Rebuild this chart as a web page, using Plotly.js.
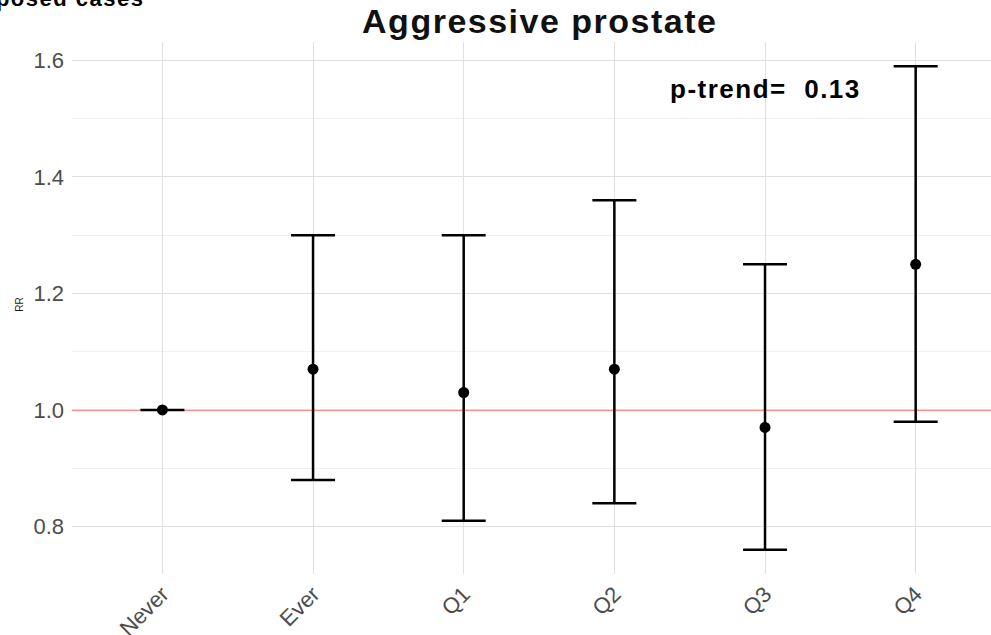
<!DOCTYPE html>
<html>
<head>
<meta charset="utf-8">
<script src="https://cdn.plot.ly/plotly-3.0.1.min.js"></script>
<style>
html, body { margin: 0; padding: 0; background: #fff; }
#chart { width: 991px; height: 635px; }
</style>
</head>
<body>
<div id="chart"></div>
<script>
// Data
const categories = ["Never", "Ever", "Q1", "Q2", "Q3", "Q4"];
const rr = [1.00, 1.07, 1.03, 1.07, 0.97, 1.25];
const lower = [1.00, 0.88, 0.81, 0.84, 0.76, 0.98];
const upper = [1.00, 1.30, 1.30, 1.36, 1.25, 1.59];
const yTicks = [0.8, 1.0, 1.2, 1.4, 1.6];
const pTrendLabel = "p-trend=\u00a0\u00a00.13";
const titleText = "Aggressive prostate";
const cutTopText = "Exposed cases";

const errPlus = rr.map((v, i) => upper[i] - v);
const errMinus = rr.map((v, i) => v - lower[i]);

const font = "Liberation Sans, Arial, Helvetica, sans-serif";

const trace = {
  type: "scatter",
  mode: "markers",
  x: categories,
  y: rr,
  marker: { color: "#000000", size: 11 },
  error_y: {
    type: "data",
    symmetric: false,
    array: errPlus,
    arrayminus: errMinus,
    color: "#000000",
    thickness: 2.5,
    width: 22
  },
  cliponaxis: false,
  hoverinfo: "x+y"
};

const layout = {
  width: 991,
  height: 635,
  paper_bgcolor: "#ffffff",
  plot_bgcolor: "#ffffff",
  margin: { l: 72, r: 0, t: 42, b: 61, pad: 0 },
  showlegend: false,
  font: { family: font, color: "#4d4d4d" },
  title: {
    text: '<span style="letter-spacing:1.5px">' + titleText + '</span>',
    font: { family: font, size: 34, color: "#111111", weight: "bold" },
    xref: "paper", x: 0.509, xanchor: "center",
    yref: "container", y: 0.966, yanchor: "middle"
  },
  xaxis: {
    type: "category",
    range: [-0.6, 5.5],
    showgrid: true,
    gridcolor: "#e0e0e0",
    gridwidth: 1,
    zeroline: false,
    showline: false,
    ticks: "",
    tickangle: -45,
    tickfont: { family: font, size: 22, color: "#4d4d4d" },
    ticklabelstandoff: 2,
    fixedrange: true
  },
  yaxis: {
    range: [0.7185, 1.6315],
    tickvals: yTicks,
    tickformat: ".1f",
    showgrid: true,
    gridcolor: "#e0e0e0",
    gridwidth: 1,
    minor: { dtick: 0.1, tick0: 0, showgrid: true, gridcolor: "#f0f0f0", gridwidth: 1 },
    zeroline: false,
    showline: false,
    ticks: "",
    tickfont: { family: font, size: 22, color: "#4d4d4d" },
    ticklabelstandoff: 7,
    fixedrange: true
  },
  shapes: [{
    type: "line", xref: "paper", x0: 0, x1: 1, yref: "y", y0: 1, y1: 1,
    line: { color: "#ff5c5c", width: 1.4 }, layer: "between"
  }],
  annotations: [
    {
      text: '<span style="letter-spacing:1.5px">' + pTrendLabel + '</span>',
      xref: "x", yref: "y", x: 4, y: 1.55,
      xanchor: "center", yanchor: "middle",
      showarrow: false,
      font: { family: font, size: 26, color: "#000000", weight: "bold" }
    },
    {
      text: "RR",
      xref: "paper", yref: "paper",
      x: (20 - 72) / 919, y: 0.506,
      xanchor: "center", yanchor: "middle",
      textangle: -90,
      showarrow: false,
      font: { family: font, size: 10, color: "#1a1a1a" }
    },
    {
      text: '<span style="letter-spacing:1.5px">' + cutTopText + '</span>',
      xref: "paper", yref: "paper",
      x: (146 - 72) / 919, y: (574 - 13) / 532,
      xanchor: "right", yanchor: "bottom",
      showarrow: false,
      font: { family: font, size: 22, color: "#000000", weight: "bold" }
    }
  ]
};

Plotly.newPlot("chart", [trace], layout, { displayModeBar: false, staticPlot: true });
</script>
</body>
</html>
